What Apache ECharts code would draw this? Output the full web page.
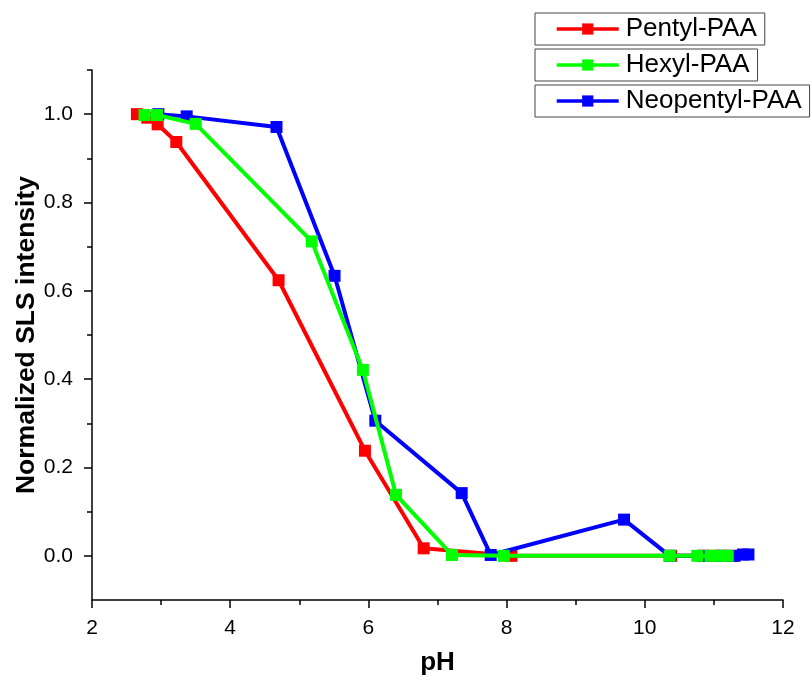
<!DOCTYPE html>
<html>
<head>
<meta charset="utf-8">
<script src="https://cdn.jsdelivr.net/npm/echarts@6/dist/echarts.min.js"></script>
<style>
  html, body { margin: 0; padding: 0; background: #ffffff; }
  #chart { width: 811px; height: 682px; }
</style>
</head>
<body>
<div id="chart"></div>
<script>
// Normalized static light scattering intensity versus pH for three PAA derivatives
const seriesNames = ['Pentyl-PAA', 'Hexyl-PAA', 'Neopentyl-PAA'];
const seriesColors = ['#ff0000', '#00ff00', '#0000ff'];

const pentylPH = [2.65, 2.80, 2.95, 3.22, 4.70, 5.95, 6.80, 8.07, 10.38, 10.85, 11.00, 11.12, 11.25];
const pentylI  = [1.000, 0.992, 0.977, 0.937, 0.624, 0.238, 0.017, 0.000, 0.000, 0.000, 0.000, 0.000, 0.000];

const hexylPH = [2.76, 2.94, 3.50, 5.18, 5.92, 6.40, 7.21, 7.96, 10.36, 10.76, 10.95, 11.08, 11.20];
const hexylI  = [0.998, 0.998, 0.978, 0.712, 0.421, 0.138, 0.002, 0.000, 0.000, 0.000, 0.000, 0.000, 0.000];

const neoPH = [2.96, 3.37, 4.67, 5.51, 6.10, 7.35, 7.77, 9.70, 10.36, 10.85, 11.10, 11.30, 11.42, 11.50];
const neoI  = [1.000, 0.995, 0.971, 0.634, 0.306, 0.142, 0.002, 0.082, 0.000, 0.000, 0.000, 0.000, 0.003, 0.003];

const xTicks = [2, 4, 6, 8, 10, 12];
const yMajorTicks = [0.0, 0.2, 0.4, 0.6, 0.8, 1.0];
const yMinorTicks = [0.1, 0.3, 0.5, 0.7, 0.9, 1.1];

const FONT = 'Liberation Sans, Arial, sans-serif';

function pairs(xs, ys) {
  return xs.map((x, i) => [x, ys[i]]);
}

const chart = echarts.init(document.getElementById('chart'), null, { renderer: 'canvas' });

function lineSeries(idx, data, z) {
  return {
    name: seriesNames[idx],
    type: 'line',
    data: data,
    xAxisIndex: 0,
    yAxisIndex: 0,
    symbol: 'rect',
    symbolSize: 12,
    z: z,
    color: seriesColors[idx],
    lineStyle: { width: 4, color: seriesColors[idx] },
    itemStyle: { color: seriesColors[idx] },
    animation: false
  };
}

function legendBox(idx, top) {
  return {
    data: [seriesNames[idx]],
    left: 535,
    top: top,
    orient: 'horizontal',
    itemWidth: 62,
    itemHeight: 14,
    padding: [3, 8, 3, 20],
    borderColor: '#444444',
    borderWidth: 1,
    borderRadius: 0,
    backgroundColor: '#ffffff',
    selectedMode: false,
    lineStyle: { width: 3.5 },
    textStyle: { fontFamily: FONT, fontSize: 26, color: '#000000', padding: [0, 0, 0, 2] }
  };
}

const axisLine = { show: true, onZero: false, lineStyle: { color: '#000000', width: 1.5 } };

const option = {
  backgroundColor: '#ffffff',
  animation: false,
  textStyle: { fontFamily: FONT },
  grid: { left: 92, right: 28, top: 70, bottom: 82, containLabel: false, outerBoundsMode: 'none' },
  legend: [legendBox(0, 13), legendBox(1, 49), legendBox(2, 85)],
  xAxis: [{
    type: 'value',
    min: xTicks[0],
    max: xTicks[xTicks.length - 1],
    interval: 2,
    name: 'pH',
    nameLocation: 'middle',
    nameGap: 50,
    nameMoveOverlap: false,
    nameTextStyle: { fontFamily: FONT, fontSize: 26, fontWeight: 'bold', color: '#000000' },
    axisLine: axisLine,
    axisTick: { show: true, inside: false, length: 8, lineStyle: { color: '#000000', width: 1.5 } },
    minorTick: { show: true, splitNumber: 2, length: 5, lineStyle: { color: '#000000', width: 1.5 } },
    axisLabel: { fontFamily: FONT, fontSize: 21, color: '#000000', margin: 18 },
    splitLine: { show: false },
    minorSplitLine: { show: false }
  }],
  yAxis: [{
    type: 'value',
    position: 'left',
    min: -0.1,
    max: 1.1,
    name: 'Normalized SLS intensity',
    nameLocation: 'middle',
    nameGap: 52,
    nameMoveOverlap: false,
    nameRotate: 90,
    nameTextStyle: { fontFamily: FONT, fontSize: 26.5, fontWeight: 'bold', color: '#000000' },
    axisLine: axisLine,
    axisTick: {
      show: true, inside: false, length: 8,
      customValues: yMajorTicks,
      lineStyle: { color: '#000000', width: 1.5 }
    },
    axisLabel: {
      fontFamily: FONT, fontSize: 21, color: '#000000', margin: 19,
      customValues: yMajorTicks,
      formatter: v => Number(v).toFixed(1)
    },
    splitLine: { show: false }
  }, {
    // minor ticks between the labelled values
    type: 'value',
    position: 'left',
    min: -0.1,
    max: 1.1,
    axisLine: { show: false, onZero: false },
    axisTick: {
      show: true, inside: false, length: 5,
      customValues: yMinorTicks,
      lineStyle: { color: '#000000', width: 1.5 }
    },
    axisLabel: { show: false },
    splitLine: { show: false }
  }],
  series: [
    lineSeries(0, pairs(pentylPH, pentylI), 2),
    lineSeries(2, pairs(neoPH, neoI), 3),
    lineSeries(1, pairs(hexylPH, hexylI), 4)
  ]
};

chart.setOption(option);
</script>
</body>
</html>
